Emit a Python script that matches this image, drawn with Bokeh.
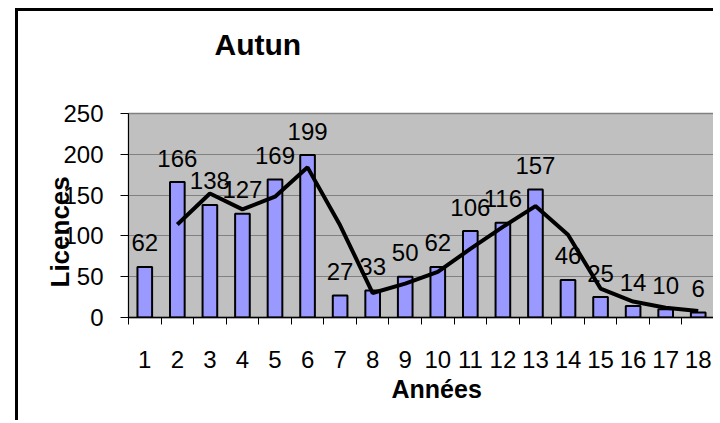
from bokeh.plotting import figure
from bokeh.models import FixedTicker, Title, ColumnDataSource
from bokeh.embed import file_html
from bokeh.resources import INLINE
from bokeh.core.properties import value

# Data
annees = list(range(1, 19))
licences = [62, 166, 138, 127, 169, 199, 27, 33, 50, 62, 106, 116, 157, 46, 25, 14, 10, 6]
# 2-period moving average line (starts at year 2)
mm_x = list(range(2, 19))
mm_y = [114, 152, 132.5, 148, 184, 113, 30, 41.5, 56, 84, 111, 136.5, 101.5, 35.5, 19.5, 12, 8]
y_ticks = [0, 50, 100, 150, 200, 250]

FONT = "Liberation Sans"

p = figure(width=698, height=412, output_backend="svg", toolbar_location=None,
           x_range=(0.5, 18.5), y_range=(0, 250), title=None,
           min_border_left=110, min_border_right=2, min_border_top=102, min_border_bottom=106)

# outer chart border (left / top) like the Excel chart area
p.styles = {"margin-left": "15px", "margin-top": "8px",
            "border-left": "3px solid black", "border-top": "3px solid black"}

p.background_fill_color = "#C0C0C0"
p.border_fill_color = "white"
p.outline_line_color = "#808080"
p.outline_line_width = 1.5

src = ColumnDataSource(dict(x=annees, y=licences, t=[str(v) for v in licences]))
p.vbar(x="x", top="y", width=0.45, bottom=0, source=src,
       fill_color="#9999FF", line_color="black", line_width=2)
p.line(mm_x, mm_y, line_color="black", line_width=4)
p.text(x="x", y="y", text="t", source=src, text_align="center", text_baseline="alphabetic",
       y_offset=-24, text_font=value(FONT), text_font_size="24px", text_color="black")

# axes
p.xaxis.ticker = FixedTicker(ticks=annees, minor_ticks=[i + 0.5 for i in range(0, 19)])
p.xaxis.major_tick_line_color = None
p.xaxis.major_tick_out = 0
p.xaxis.major_tick_in = 0
p.xaxis.minor_tick_out = 7
p.xaxis.minor_tick_in = 0
p.xaxis.minor_tick_line_color = "black"
p.xaxis.axis_line_color = "black"
p.xaxis.axis_line_width = 1.5
p.xaxis.major_label_standoff = 26
p.xaxis.major_label_text_font = FONT
p.xaxis.major_label_text_font_size = "24px"
p.xaxis.major_label_text_color = "black"

p.yaxis.ticker = FixedTicker(ticks=y_ticks, minor_ticks=[])
p.yaxis.major_tick_out = 8
p.yaxis.major_tick_in = 0
p.yaxis.major_tick_line_color = "black"
p.yaxis.axis_line_color = "black"
p.yaxis.major_label_standoff = 17
p.yaxis.major_label_text_font = FONT
p.yaxis.major_label_text_font_size = "24px"
p.yaxis.major_label_text_color = "black"

p.xgrid.grid_line_color = None
p.ygrid.ticker = FixedTicker(ticks=y_ticks)
p.ygrid.grid_line_color = "#808080"
p.ygrid.grid_line_width = 1

# titles (trailing empty line lifts the chart title away from the plot area)
p.add_layout(Title(text="Autun\n", align="left", offset=86, standoff=26,
                   text_font=FONT, text_font_size="30px", text_font_style="bold",
                   text_line_height=1.2, text_color="black"), "above")
p.add_layout(Title(text="Années", align="left", offset=263, standoff=4,
                   text_font=FONT, text_font_size="25px", text_font_style="bold",
                   text_color="black"), "below")
p.add_layout(Title(text="Licences", align="left", offset=30, standoff=-29,
                   text_font=FONT, text_font_size="26px", text_font_style="bold",
                   text_color="black"), "left")

open("out.html", "w").write(file_html(p, INLINE))
